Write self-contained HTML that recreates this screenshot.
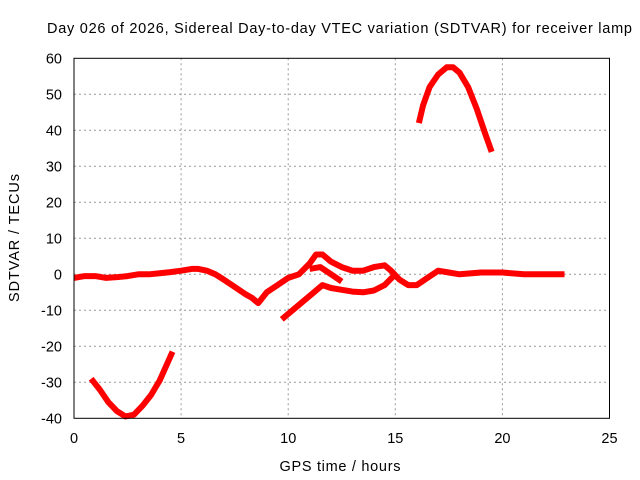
<!DOCTYPE html>
<html><head><meta charset="utf-8"><style>
body{margin:0;background:#fff}
svg{display:block;font-family:"Liberation Sans",sans-serif}
</style></head><body>
<svg id="chart" width="640" height="480">
<rect width="640" height="480" fill="#fff"/>
<text x="339.5" y="33" font-size="14.5" text-anchor="middle" textLength="585" lengthAdjust="spacing">Day 026 of 2026, Sidereal Day-to-day VTEC variation (SDTVAR) for receiver lamp</text>
<g id="grid"></g><g id="series"></g>
<rect x="74" y="58.3" width="535.5" height="360" fill="none" stroke="#000"/>
<g id="ticks"></g>
<text x="340" y="471" font-size="14.5" text-anchor="middle" textLength="121">GPS time / hours</text>
<text transform="translate(19,238) rotate(-90)" font-size="14.5" text-anchor="middle" textLength="128">SDTVAR / TECUs</text>
</svg>
<script>
const xTicks=[0,5,10,15,20,25];
const yTicks=[-40,-30,-20,-10,0,10,20,30,40,50,60];
const mainT=[0,0.5,1,1.5,2,2.5,3,3.5,4,4.5,5,5.5,5.8,6.2,6.6,7,7.5,8,8.3,8.6,9,9.5,10,10.5,11,11.3,11.6,12,12.5,13,13.5,14,14.5,14.8,15.2,15.6,16,16.5,17,17.5,18,19,20,21,22,22.9];
const mainV=[-1,-0.5,-0.5,-1,-0.8,-0.5,0,0,0.3,0.6,1,1.5,1.5,1,0,-1.5,-3.5,-5.5,-6.5,-8,-5,-3,-1,0,3,5.5,5.5,3.5,2,1,1,2,2.5,1,-1.5,-3,-3,-1,1,0.5,0,0.5,0.5,0,0,0];
const midT=[11,11.5,12,12.5];
const midV=[1.5,2,0,-2];
const lowT=[9.7,10.2,10.7,11.2,11.6,12,12.5,13,13.5,14,14.5,15];
const lowV=[-12.5,-10,-7.5,-5,-3,-3.8,-4.3,-4.8,-5,-4.5,-3,0];
const topT=[16.1,16.3,16.6,17,17.4,17.7,18,18.4,18.8,19.2,19.5];
const topV=[42,47,52,55.5,57.5,57.5,56,52,46,39,34];
const botT=[0.8,1.2,1.6,2,2.4,2.8,3.2,3.6,4,4.3,4.6];
const botV=[-29,-32,-35.5,-38,-39.5,-39,-36.5,-33.5,-29.5,-25.5,-21.5];
const X=t=>74+t*21.42, Y=v=>274.3-v*3.6;
const ns='http://www.w3.org/2000/svg';
const g=document.getElementById('grid'),tk=document.getElementById('ticks'),s=document.getElementById('series');
function el(p,tag,a){const e=document.createElementNS(ns,tag);for(const k in a)e.setAttribute(k,a[k]);p.appendChild(e);return e;}
xTicks.forEach(t=>{
 if(t>0&&t<25){const l=el(g,'line',{x1:X(t),x2:X(t),y1:58.3,y2:418.3,stroke:'#999','stroke-dasharray':'2,3'});
 
 }
 const tx=el(tk,'text',{x:X(t),y:443,'font-size':14.5,'text-anchor':'middle'});tx.textContent=t;
 
 
});
yTicks.forEach(v=>{
 if(v>-40&&v<60){const l=el(g,'line',{x1:74,x2:609.5,y1:Y(v),y2:Y(v),stroke:'#999','stroke-dasharray':'2,3'});
 
 }
 const tx=el(tk,'text',{x:62,y:Y(v)+5,'font-size':14.5,'text-anchor':'end'});tx.textContent=v;
 
 
});
[[mainT,mainV,'series-main'],[midT,midV,'series-mid-branch'],[lowT,lowV,'series-low-branch'],[topT,topV,'series-top-arc'],[botT,botV,'series-bottom-arc']].forEach(([ts,vs,n])=>{
 const p=el(s,'polyline',{points:ts.map((t,i)=>X(t)+','+Y(vs[i])).join(' '),fill:'none',stroke:'#f00','stroke-width':6,'stroke-linejoin':'round'});
 
 
});
</script>
</body></html>
